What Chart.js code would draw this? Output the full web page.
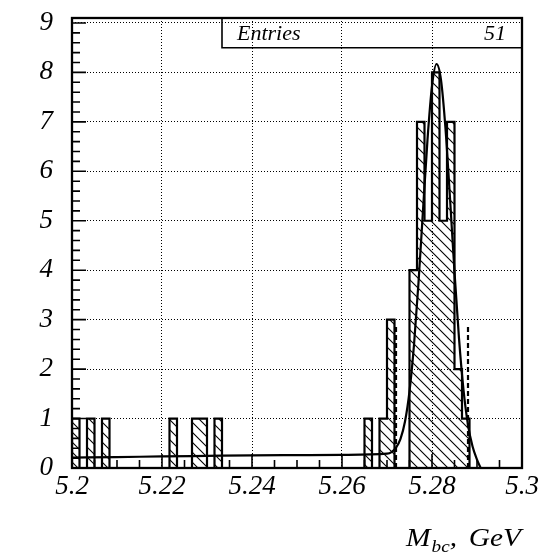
<!DOCTYPE html>
<html>
<head>
<meta charset="utf-8">
<script src="https://cdn.jsdelivr.net/npm/chart.js@4/dist/chart.umd.min.js"></script>
<style>
  html, body { margin: 0; padding: 0; background: #fff; }
  #wrap { width: 542px; height: 560px; }
</style>
</head>
<body>
<div id="wrap"><canvas id="c" width="542" height="560"></canvas></div>
<script>
// Histogram binning of M_bc (GeV)
const binLow = 5.2;
const binHigh = 5.3;
const nBins = 60;

// Events per bin
const binCounts = [
  1, 0, 1, 0, 1, 0, 0, 0, 0, 0,
  0, 0, 0, 1, 0, 0, 1, 1, 0, 1,
  0, 0, 0, 0, 0, 0, 0, 0, 0, 0,
  0, 0, 0, 0, 0, 0, 0, 0, 0, 1,
  0, 1, 3, 0, 0, 4, 7, 5, 8, 5,
  7, 2, 1, 0, 0, 0, 0, 0, 0, 0
];

// Fitted signal + background curve, sampled in M_bc
const fitX = [5.200, 5.210, 5.220, 5.230, 5.240, 5.250, 5.260, 5.270, 5.271, 5.272,
              5.273, 5.274, 5.275, 5.276, 5.277, 5.278, 5.279, 5.280, 5.281, 5.282,
              5.283, 5.284, 5.285, 5.286, 5.287, 5.288, 5.289, 5.290, 5.2908];
const fitY = [0.21, 0.22, 0.235, 0.245, 0.255, 0.26, 0.265, 0.29, 0.32, 0.41,
              0.59, 0.94, 1.55, 2.49, 3.75, 5.21, 6.64, 7.72, 8.17, 7.85,
              6.86, 5.46, 3.96, 2.62, 1.58, 0.87, 0.44, 0.17, 0];

// Signal window boundaries
const cutX = [5.272, 5.288];
const cutHeight = [2.85, 2.85];

// Axis ticks
const xTickValues = [5.2, 5.22, 5.24, 5.26, 5.28, 5.3];
const xTickLabels = ['5.2', '5.22', '5.24', '5.26', '5.28', '5.3'];
const yTickValues = [0, 1, 2, 3, 4, 5, 6, 7, 8, 9];
const yTickLabels = ['0', '1', '2', '3', '4', '5', '6', '7', '8', '9'];
const yMax = 9.1;

const statsLabel = 'Entries';
const entries = binCounts.reduce((s, c) => s + c, 0);

const binWidth = (binHigh - binLow) / nBins;
const histPoints = [{ x: binLow, y: 0 }]
  .concat(binCounts.map((c, i) => ({ x: binLow + i * binWidth, y: c })))
  .concat([{ x: binHigh, y: 0 }]);
const fitPoints = fitX.map((x, i) => ({ x: x, y: fitY[i] }));

const serif = "'Liberation Serif', 'DejaVu Serif', serif";

// Diagonal hatch fill
function makeHatch() {
  const s = 10;
  const c = document.createElement('canvas');
  c.width = s; c.height = s;
  const g = c.getContext('2d');
  g.strokeStyle = '#000';
  g.lineWidth = 1.1;
  g.beginPath();
  g.moveTo(0, 0); g.lineTo(s, s);
  g.moveTo(-2, s - 2); g.lineTo(2, s + 2);
  g.moveTo(s - 2, -2); g.lineTo(s + 2, 2);
  g.stroke();
  return g.createPattern(c, 'repeat');
}

// Frame, inner ticks, statistics box and axis title
const decorations = {
  id: 'decorations',
  afterDatasetsDraw(chart) {
    const { ctx, chartArea: a, scales } = chart;
    const xs = scales.x, ys = scales.y;
    ctx.save();
    ctx.strokeStyle = '#000';
    ctx.fillStyle = '#000';

    ctx.lineWidth = 1.6;
    ctx.beginPath();
    for (let k = 0; k * 0.2 <= yMax; k++) {
      const py = ys.getPixelForValue(k * 0.2);
      const len = (k % 5 === 0) ? 14 : 8;
      ctx.moveTo(a.left, py); ctx.lineTo(a.left + len, py);
    }
    for (let k = 0; k <= 20; k++) {
      const px = xs.getPixelForValue(binLow + k * 0.005);
      const len = (k % 4 === 0) ? 14 : 8;
      ctx.moveTo(px, a.bottom); ctx.lineTo(px, a.bottom - len);
    }
    ctx.stroke();

    ctx.lineWidth = 2.3;
    ctx.strokeRect(a.left, a.top, a.right - a.left, a.bottom - a.top);

    // statistics box
    const boxLeft = 222, boxBottom = 47.7;
    ctx.lineWidth = 1.6;
    ctx.beginPath();
    ctx.moveTo(boxLeft, a.top);
    ctx.lineTo(boxLeft, boxBottom);
    ctx.lineTo(a.right, boxBottom);
    ctx.stroke();
    ctx.font = 'italic 22px ' + serif;
    ctx.textBaseline = 'alphabetic';
    ctx.textAlign = 'left';
    ctx.fillText(statsLabel, 237, 40);
    ctx.textAlign = 'right';
    ctx.fillText(String(entries), 506, 40);

    // axis title: M_bc, GeV
    ctx.save();
    ctx.translate(406, 0);
    ctx.scale(1.13, 1);
    ctx.textAlign = 'left';
    ctx.font = 'italic 26px ' + serif;
    ctx.fillText('M', 0, 546);
    const mW = ctx.measureText('M').width;
    ctx.font = 'italic 17px ' + serif;
    ctx.fillText('bc', mW + 1, 552);
    const bcW = ctx.measureText('bc').width;
    ctx.font = 'italic 26px ' + serif;
    ctx.fillText(',', mW + bcW + 1, 546);
    ctx.textAlign = 'right';
    ctx.fillText('GeV', (521 - 406) / 1.13, 546);
    ctx.restore();
    ctx.restore();
  }
};

new Chart(document.getElementById('c'), {
  type: 'line',
  data: {
    datasets: [
      {
        data: fitPoints,
        borderColor: '#000',
        borderWidth: 2.2,
        cubicInterpolationMode: 'monotone',
        pointRadius: 0,
        fill: false
      },
      {
        data: [{ x: cutX[0], y: 0 }, { x: cutX[0], y: cutHeight[0] }],
        borderColor: '#000',
        borderWidth: 2.2,
        borderDash: [5, 3],
        pointRadius: 0,
        fill: false
      },
      {
        data: [{ x: cutX[1], y: 0 }, { x: cutX[1], y: cutHeight[1] }],
        borderColor: '#000',
        borderWidth: 2.2,
        borderDash: [5, 3],
        pointRadius: 0,
        fill: false
      },
      {
        data: histPoints,
        stepped: 'before',
        borderColor: '#000',
        borderWidth: 2.2,
        borderJoinStyle: 'miter',
        backgroundColor: makeHatch(),
        fill: 'origin',
        pointRadius: 0
      }
    ]
  },
  options: {
    responsive: false,
    animation: false,
    devicePixelRatio: 1,
    layout: { padding: { top: 18, right: 20, left: 0, bottom: 0 } },
    plugins: { legend: { display: false }, tooltip: { enabled: false } },
    scales: {
      x: {
        type: 'linear',
        min: binLow,
        max: binHigh,
        afterBuildTicks: s => { s.ticks = xTickValues.map(v => ({ value: v })); },
        afterFit: s => { s.height = 92; s.paddingLeft = 0; s.paddingRight = 0; },
        ticks: {
          callback: (v, i) => xTickLabels[i],
          font: { family: serif, size: 27, style: 'italic' },
          color: '#000',
          padding: 3,
          maxRotation: 0,
          autoSkip: false
        },
        grid: { color: '#000', lineWidth: 1, drawTicks: false },
        border: { display: false, dash: [1, 2] }
      },
      y: {
        type: 'linear',
        min: 0,
        max: yMax,
        afterBuildTicks: s => { s.ticks = yTickValues.map(v => ({ value: v })); },
        afterFit: s => { s.width = 72; s.paddingTop = 0; s.paddingBottom = 0; },
        ticks: {
          callback: (v, i) => yTickLabels[i],
          font: { family: serif, size: 27, style: 'italic' },
          color: '#000',
          padding: 19
        },
        grid: { color: '#000', lineWidth: 1, drawTicks: false },
        border: { display: false, dash: [1, 2] }
      }
    }
  },
  plugins: [decorations]
});
</script>
</body>
</html>
